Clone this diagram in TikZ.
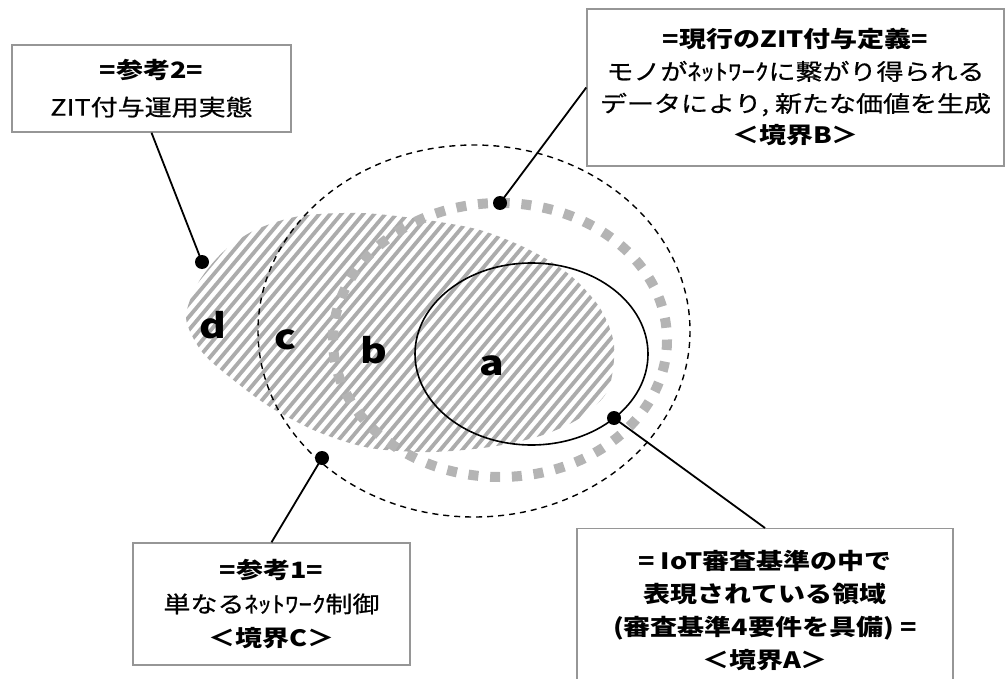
\documentclass[tikz,border=0pt]{standalone}
\usepackage{fontspec}
\setmainfont{Noto Sans CJK JP}[FakeStretch=1.2, UprightFeatures={FakeBold=0.7}]
\definecolor{hatchgray}{RGB}{172,172,172}
\definecolor{sqgray}{RGB}{180,180,180}
\definecolor{boxgray}{RGB}{150,150,150}
\begin{document}
\begin{tikzpicture}[x=1pt,y=-1pt,
  box/.style={draw=boxgray, line width=1.4pt, fill=white, align=center, inner sep=0pt, font=\fontsize{22}{33}\selectfont},
  conn/.style={line width=1.8pt, draw=black},
  dotnode/.style={circle, fill=black, inner sep=0pt, minimum size=14pt},
  lbl/.style={font=\bfseries\fontsize{34}{34}\selectfont, anchor=base, inner sep=0pt},
  hatchline/.style={line width=3.8pt, draw=hatchgray},
  bbound/.style={line width=10pt, draw=sqgray, dash pattern=on 10pt off 11.75pt},
  cbound/.style={line width=1.4pt, draw=black, dash pattern=on 6pt off 5pt},
  abound/.style={line width=1.6pt, draw=black},
]
\useasboundingbox (0,0) rectangle (1006,679);
% hatched region
\begin{scope}
\clip plot[smooth cycle] coordinates {(186,318) (198,283) (223,252) (255,230) (300,216) (360,213) (420,219) (480,230) (530,250) (570,275) (600,308) (614,345) (608,390) (580,418) (540,436) (490,447) (430,452) (370,448) (318,432) (270,407) (232,379) (202,352)};
\foreach \x in {-80,-69,...,660} \draw[hatchline] (\x,480) -- ++(350,-417);
\end{scope}
% boundaries
\draw[bbound] (500,340) ellipse [x radius=167, y radius=137];
\draw[cbound] (474,331) ellipse [x radius=216, y radius=186];
\draw[abound] (531.5,354) ellipse [x radius=116.5, y radius=91];
% letters
\node[lbl] (ld) at (213,338) {d};
\node[lbl] (lc) at (285,349) {c};
\node[lbl] (lb) at (374,363) {b};
\node[lbl] (la) at (492,375) {a};
% boxes
\node[box, minimum width=279pt, minimum height=87pt, font=\fontsize{22.5}{37}\selectfont] (ref2) at (151.5,88.5)
  {\textbf{=参考2=}\\ZIT付与運用実態};
\node[box, minimum width=417pt, minimum height=157pt, font=\fontsize{22.5}{32}\selectfont] (cur) at (795.5,87.5)
  {\textbf{=現行のZIT付与定義=}\\モノがﾈｯﾄﾜｰｸに繋がり得られる\\データにより, 新たな価値を生成\\\textbf{＜境界B＞}};
\node[box, minimum width=277pt, minimum height=122pt, font=\fontsize{22.5}{34}\selectfont] (ref1) at (271.5,604)
  {\textbf{=参考1=}\\単なるﾈｯﾄﾜｰｸ制御\\\textbf{＜境界C＞}};
\node[box, minimum width=376pt, minimum height=164pt, anchor=north, font=\bfseries\fontsize{22.5}{33}\selectfont] (iot) at (765,528)
  {= IoT審査基準の中で\\表現されている領域\\(審査基準4要件を具備) =\\＜境界A＞};
% dots
\node[dotnode] (p2) at (202,262) {};
\node[dotnode] (pB) at (500,203) {};
\node[dotnode] (pC) at (322,458) {};
\node[dotnode] (pA) at (614,418) {};
% connectors
\draw[conn] (p2.center) -- (ref2.south);
\draw[conn] (pB.center) -- (cur.west);
\draw[conn] (pC.center) -- (ref1.north);
\draw[conn] (pA.center) -- (iot.north);
\end{tikzpicture}
\end{document}
